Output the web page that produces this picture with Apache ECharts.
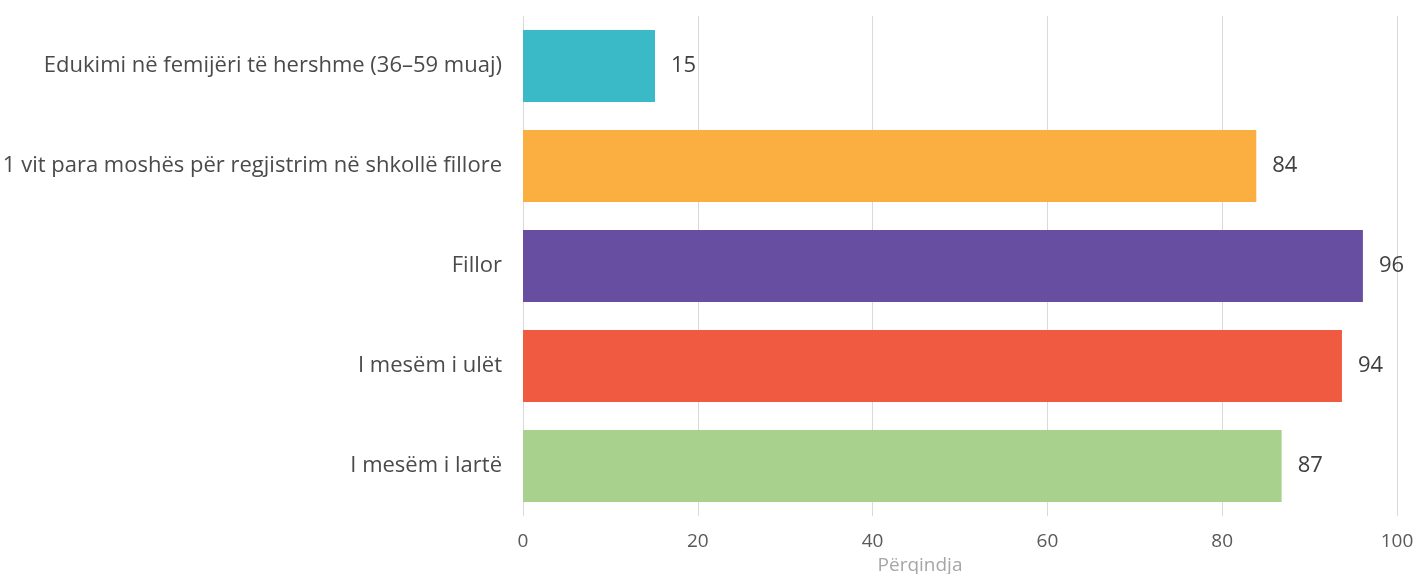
<!DOCTYPE html>
<html><head><meta charset="utf-8">
<script src="https://cdn.jsdelivr.net/npm/echarts@6/dist/echarts.min.js"></script>
<style>html,body{margin:0;padding:0;background:#fff;overflow:hidden}#c{width:1416px;height:574px}</style>
</head><body><div id="c"></div>
<script>
const categories = [
  "Edukimi në femijëri të hershme (36–59 muaj)",
  "1 vit para moshës për regjistrim në shkollë fillore",
  "Fillor",
  "I mesëm i ulët",
  "I mesëm i lartë"
];
const values = [15.1, 83.9, 96.1, 93.7, 86.8];
const colors = ["#3ab9c6", "#fbaf40", "#674ea1", "#f05a40", "#a8d18d"];
const xTicks = [0, 20, 40, 60, 80, 100];
const xAxisName = "Përqindja";

const chart = echarts.init(document.getElementById('c'), null, {renderer: 'canvas'});
chart.setOption({
  animation: false,
  grid: {left: 523, right: 19, top: 16, bottom: 58, containLabel: false, outerBoundsMode: 'none'},
  xAxis: {
    type: 'value', min: xTicks[0], max: xTicks[xTicks.length - 1], interval: 20,
    name: xAxisName, nameLocation: 'middle', nameGap: 33,
    nameTextStyle: {color: '#a6a6a6', fontSize: 19, fontFamily: '"Open Sans"', padding: [0, 80, 0, 0]},
    axisLine: {show: false}, axisTick: {show: false},
    axisLabel: {color: '#595959', fontSize: 19, fontFamily: '"Open Sans"', margin: 16},
    splitLine: {lineStyle: {color: '#d9d9d9', width: 1}}
  },
  yAxis: {
    type: 'category', data: categories, inverse: true,
    axisLine: {show: false}, axisTick: {show: false},
    axisLabel: {color: '#4a4a4a', fontSize: 22, fontFamily: '"Open Sans", sans-serif', margin: 21}
  },
  series: [{
    type: 'bar', barWidth: '72%',
    data: values.map((v, i) => ({value: v, itemStyle: {color: colors[i]}})),
    label: {show: true, position: 'right', distance: 16, color: '#404040', fontSize: 22, fontFamily: '"Open Sans"',
      formatter: p => Math.round(p.value)}
  }]
});
</script></body></html>
